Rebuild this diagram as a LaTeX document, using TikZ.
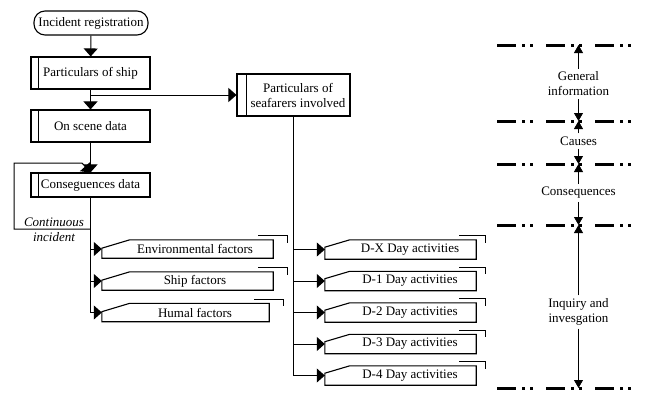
\documentclass[tikz,border=0pt]{standalone}
\usepackage{fontspec}
\setmainfont{Liberation Serif}
\usetikzlibrary{arrows.meta,calc}

\newcommand{\slantbox}[5]{% name, rise, run, bracket-left, bracket-right
  \draw[boxline] ($(#1.south west)+(0,-#2)$) -- ($(#1.north west)+(#3,0)$) -- (#1.north east) -- (#1.south east) -- (#1.south west) -- cycle;
  \draw[thinline] ($(#1.north east)+(-#4,-4)$) -- ($(#1.north east)+(#5,-4)$) -- ($(#1.north east)+(#5,3)$);
}

\begin{document}
\begin{tikzpicture}[x=1pt,y=-1pt,
  font=\fontsize{13}{15}\selectfont,
  boxline/.style={line width=1.1pt},
  thinline/.style={line width=1pt},
  pbox/.style={draw, boxline, minimum width=119pt, minimum height=32pt, inner sep=0pt, align=center},
  startbox/.style={draw, boxline, rounded corners=11pt, minimum width=114pt, minimum height=24pt, inner sep=0pt},
  fshape/.style={minimum width=171pt, minimum height=18pt, inner sep=0pt},
  dshape/.style={minimum width=151pt, minimum height=19pt, inner sep=0pt},
  arr/.style={thinline, -{Triangle[length=8pt,width=14pt]}},
  sarr/.style={line width=0.8pt, -{Triangle[length=8pt,width=9pt]}},
  lbl/.style={inner sep=3pt, align=center},
  sepline/.style={line width=3pt, dash pattern=on 19pt off 6pt on 3pt off 5pt on 3pt off 13pt}
]
\useasboundingbox (0,0) rectangle (648,402);

% left column
\node[startbox] (inc) at (91,23) {Incident registration};
\node[pbox] (ship) at (90.5,73) {Particulars of ship};
\node[pbox] (scene) at (90.5,126) {On scene data};
\node[pbox, minimum height=24pt] (cons) at (90.5,185) {Conseguences data};
\node[pbox, minimum width=113pt, minimum height=42pt] (sea) at (293.5,95) {\hspace*{9pt}Particulars of\\\hspace*{9pt}seafarers involved};
\foreach \n/\d in {ship/8,scene/8,cons/8,sea/10}
  \draw[boxline] ($(\n.north west)+(\d,0)$) -- ($(\n.south west)+(\d,0)$);

\draw[arr] (inc) -- (ship);
\draw[arr] (ship) -- (scene);
\draw[arr] (scene) -- (cons);
\coordinate (j1) at (90.5,95);
\draw[arr] (j1) -- (sea.west);

% continuous incident loop
\coordinate (fb) at (90.5,313);
\coordinate (lp) at (90.5,229);
\coordinate (lpa) at (14,229);
\coordinate (lpb) at (14,163);
\coordinate (lpc) at (82,163);
\draw[thinline] (cons.south) -- (fb);
\draw[arr] (lp) -- (lpa) -- (lpb) -- (lpc) -- (cons.north);
\node[font=\fontsize{13}{15}\selectfont\itshape] (ci1) at (54,222) {Continuous};
\node[font=\fontsize{13}{15}\selectfont\itshape] (ci2) at (54,237) {incident};

% factor shapes
\node[fshape, label={[xshift=7.5pt]center:Environmental factors}] (env) at (187.5,249) {};
\node[fshape, label={[xshift=7.5pt]center:Ship factors}] (shf) at (187.5,281) {};
\node[fshape, minimum width=167pt, label={[xshift=9.5pt]center:Humal factors}] (hum) at (185.5,312.5) {};
\foreach \n in {env,shf,hum} {
  \slantbox{\n}{10}{28}{15}{14}
  \draw[arr] (fb |- \n.west) -- (\n.west);
}

% day activity shapes
\coordinate (db) at (293.5,375.5);
\draw[thinline] (sea.south) -- (db);
\node[dshape, label={[xshift=9.5pt]center:D-X Day activities}] (dx) at (400.5,249.5) {};
\node[dshape, label={[xshift=9.5pt]center:D-1 Day activities}] (d1) at (400.5,281) {};
\node[dshape, label={[xshift=9.5pt]center:D-2 Day activities}] (d2) at (400.5,312.5) {};
\node[dshape, label={[xshift=9.5pt]center:D-3 Day activities}] (d3) at (400.5,344) {};
\node[dshape, label={[xshift=9.5pt]center:D-4 Day activities}] (d4) at (400.5,375.5) {};
\foreach \n in {dx,d1,d2,d3,d4} {
  \slantbox{\n}{12}{25}{17}{9}
  \draw[arr] (db |- \n.west) -- (\n.west);
}

% right column
\foreach \y/\nm in {45/L1,121/L2,164/L3,225/L4,388/L5} {
  \draw[sepline] (497,\y) -- (635,\y);
  \coordinate (\nm) at (578.5,\y);
}
\node[lbl] (gi) at (578.5,84) {General\\information};
\node[lbl] (ca) at (578.5,141) {Causes};
\node[lbl] (cq) at (578.5,193) {Consequences};
\node[lbl] (iq) at (578.5,312) {Inquiry and\\invesgation};
\draw[sarr] (gi.north) -- (L1);
\draw[sarr] (gi.south) -- (L2);
\draw[sarr] (ca.north) -- (L2);
\draw[sarr] (ca.south) -- (L3);
\draw[sarr] (cq.north) -- (L3);
\draw[sarr] (cq.south) -- (L4);
\draw[sarr] (iq.north) -- (L4);
\draw[sarr] (iq.south) -- (L5);
\end{tikzpicture}
\end{document}
